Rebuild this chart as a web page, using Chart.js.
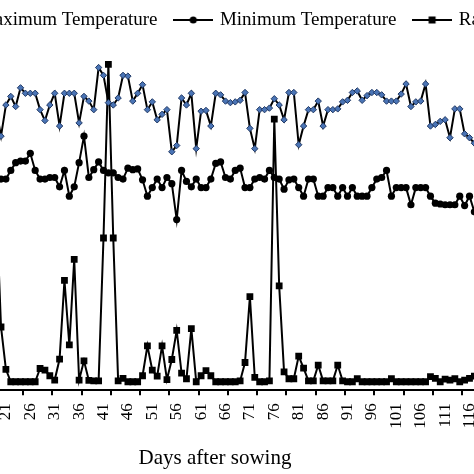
<!DOCTYPE html>
<html><head><meta charset="utf-8">
<script src="https://cdn.jsdelivr.net/npm/chart.js@4.4.1/dist/chart.umd.min.js"></script>
<style>
html,body{margin:0;padding:0;background:#fff;overflow:hidden;width:474px;height:474px;position:relative;}
#wrap{position:absolute;left:-200px;top:-8px;width:854px;height:482px;}
</style></head><body>
<div id="wrap"><canvas id="c" width="854" height="482"></canvas></div>
<script>
const days = [19,20,21,22,23,24,25,26,27,28,29,30,31,32,33,34,35,36,37,38,39,40,41,42,43,44,45,46,47,48,49,50,51,52,53,54,55,56,57,58,59,60,61,62,63,64,65,66,67,68,69,70,71,72,73,74,75,76,77,78,79,80,81,82,83,84,85,86,87,88,89,90,91,92,93,94,95,96,97,98,99,100,101,102,103,104,105,106,107,108,109,110,111,112,113,114,115,116,117,118];
const maxTemp = [36.0,32.6,36.6,37.7,36.4,38.8,38.1,38.1,38.1,36.0,
34.6,36.6,38.1,33.9,38.1,38.1,38.1,34.3,37.7,37.1,
36.0,41.4,40.4,36.9,36.6,37.5,40.4,40.3,37.1,38.1,
39.2,36.0,37.0,34.7,35.4,36.0,30.6,31.4,37.5,36.6,
38.1,31.0,35.8,35.9,33.9,38.1,37.9,37.1,36.9,37.0,
37.2,38.2,33.6,31.0,36.0,36.0,36.2,37.4,36.6,34.7,
38.2,38.2,31.5,33.9,36.0,36.0,37.1,33.9,36.0,36.0,
36.1,37.0,37.2,38.2,38.4,37.2,37.8,38.2,38.2,37.9,
37.1,37.1,37.1,38.0,39.3,36.4,37.0,37.1,39.3,33.9,
34.1,34.5,34.7,32.4,36.1,36.1,32.9,32.4,31.7,31.7];
const minTemp = [27.1,27.1,27.1,28.2,29.2,29.4,29.4,30.4,28.2,27.1,
27.1,27.3,27.3,26.1,28.2,24.9,26.1,29.2,32.6,27.3,
28.3,29.3,28.2,27.9,27.9,27.3,27.1,28.5,28.3,28.4,
27.0,24.9,26.0,27.1,26.0,27.3,26.5,21.9,28.2,26.8,
26.1,27.1,26.0,26.0,27.1,29.1,29.3,27.3,27.1,28.2,
28.5,26.0,26.0,27.1,27.3,27.1,28.2,27.3,27.1,25.8,
27.0,27.1,26.0,24.9,27.1,27.1,24.9,24.9,26.0,26.0,
24.9,26.0,24.9,26.0,24.9,24.9,24.9,26.0,27.1,27.3,
28.2,24.9,26.0,26.0,26.0,23.8,26.0,26.0,26.0,24.9,
24.0,23.9,23.8,23.8,23.8,24.9,23.7,24.9,22.9,23.8];
const rainfall = [42.5,12.8,2.9,0,0,0,0,0,0,3.1,
2.7,1.4,0.4,5.3,23.7,8.6,28.6,0.4,4.9,0.3,
0.2,0.2,33.6,74.2,33.6,0.2,0.8,0,0,0,
1.4,8.4,2.7,1.3,8.4,0.5,5.2,12.0,2.0,0.7,
12.4,0,1.4,2.6,1.4,0,0,0,0,0,
0.2,4.5,19.9,1.0,0,0,0.2,61.4,22.4,2.3,
0.7,0.7,6.0,3.2,0.2,0.2,3.9,0.2,0.2,0.2,
3.9,0.2,0,0,0.7,0,0,0,0,0,
0,0.7,0,0,0,0,0,0,0,1.2,
0.8,0,0.6,0.4,0.7,0,0.4,0.8,1.3,1.3];
const tickLabelDays = [21,26,31,36,41,46,51,56,61,66,71,76,81,86,91,96,101,106,111,116];
const tickMarkDays = [6.5,12.5,18.5,24.5,30.5,36.5,42.5,48.5,54.5,60.5,66.5,72.5,78.5,84.5,90.5,96.5,102.5,108.5,114.5,120.5];
const seriesNames = ['Maximum Temperature','Minimum Temperature','Rainfall'];
const xAxisTitle = 'Days after sowing';

const FONT = 'Liberation Serif';
const XMIN = 2.373, XMAX = 125.324;
const MAXCOL = '#4A74B5', MAXEDGE = '#203864';

function makeIcon(kind){
  const c = document.createElement('canvas');
  c.width = 40; c.height = 12;
  const g = c.getContext('2d');
  g.strokeStyle = '#000'; g.lineWidth = 2;
  g.beginPath(); g.moveTo(0,6); g.lineTo(40,6); g.stroke();
  if(kind==='diamond'){
    g.fillStyle = MAXCOL; g.strokeStyle = MAXEDGE; g.lineWidth = 1;
    g.beginPath(); g.moveTo(20,2); g.lineTo(24,6); g.lineTo(20,10); g.lineTo(16,6); g.closePath(); g.fill(); g.stroke();
  } else if(kind==='circle'){
    g.fillStyle = '#000'; g.beginPath(); g.arc(20,6,3.6,0,Math.PI*2); g.fill();
  } else {
    g.fillStyle = '#000'; g.fillRect(16.5,2.5,7,7);
  }
  return c;
}
const icons = [makeIcon('diamond'), makeIcon('circle'), makeIcon('square')];
const toXY = vals => days.map((d,i)=>({x:d, y:vals[i]}));

new Chart(document.getElementById('c'), {
  type: 'line',
  data: {datasets: [
    {label: seriesNames[0], data: toXY(maxTemp), yAxisID:'y', xAxisID:'x', borderColor:'#000', borderWidth:2, tension:0,
     pointStyle:'rectRot', pointRadius:3.2, pointBackgroundColor:MAXCOL, pointBorderColor:MAXEDGE, pointBorderWidth:1},
    {label: seriesNames[1], data: toXY(minTemp), yAxisID:'y', xAxisID:'x', borderColor:'#000', borderWidth:2, tension:0,
     pointStyle:'circle', pointRadius:3.6, pointBackgroundColor:'#000', pointBorderColor:'#000', pointBorderWidth:0},
    {label: seriesNames[2], data: toXY(rainfall), yAxisID:'y1', xAxisID:'x', borderColor:'#000', borderWidth:2, tension:0,
     pointStyle:'rect', pointRadius:4.8, pointBackgroundColor:'#000', pointBorderColor:'#000', pointBorderWidth:0}
  ]},
  options: {
    responsive:false, animation:false, devicePixelRatio:1,
    layout:{padding:0},
    plugins:{
      tooltip:{enabled:false},
      legend:{display:true, position:'top', align:'center',
        labels:{usePointStyle:true, pointStyleWidth:34.4, padding:18.5, color:'#000',
          font:{family:FONT, size:19},
          generateLabels(chart){
            const items = Chart.defaults.plugins.legend.labels.generateLabels(chart);
            items.forEach((it,i)=>{ it.pointStyle = icons[i]; it.fontColor = '#000'; });
            return items;
          }}}
    },
    scales:{
      x:{type:'linear', position:'bottom', weight:0, min:XMIN, max:XMAX,
        afterBuildTicks: s => { s.ticks = tickMarkDays.map(v=>({value:v})); },
        ticks:{display:false},
        grid:{display:true, drawOnChartArea:false, drawTicks:true, tickLength:5, color:'#000', lineWidth:2},
        border:{display:true, color:'#000', width:2}},
      xl:{type:'linear', position:'bottom', weight:1, min:XMIN, max:XMAX,
        afterBuildTicks: s => { s.ticks = tickLabelDays.map(v=>({value:v})); },
        ticks:{autoSkip:false, minRotation:90, maxRotation:90, padding:8, color:'#000', font:{family:FONT, size:17}},
        grid:{display:false, drawTicks:false}, border:{display:false},
        title:{display:true, text:xAxisTitle, color:'#000', font:{family:FONT, size:21}, padding:{top:9, bottom:3}}},
      y:{type:'linear', position:'left', min:0, max:45, ticks:{display:false},
        grid:{display:false, drawTicks:false}, border:{display:false}, afterFit: s => { s.width = 115; }},
      y1:{type:'linear', position:'right', min:-2, max:80, ticks:{display:false},
        grid:{display:false, drawTicks:false}, border:{display:false}, afterFit: s => { s.width = 139; }}
    }
  }
});
</script>
</body></html>
